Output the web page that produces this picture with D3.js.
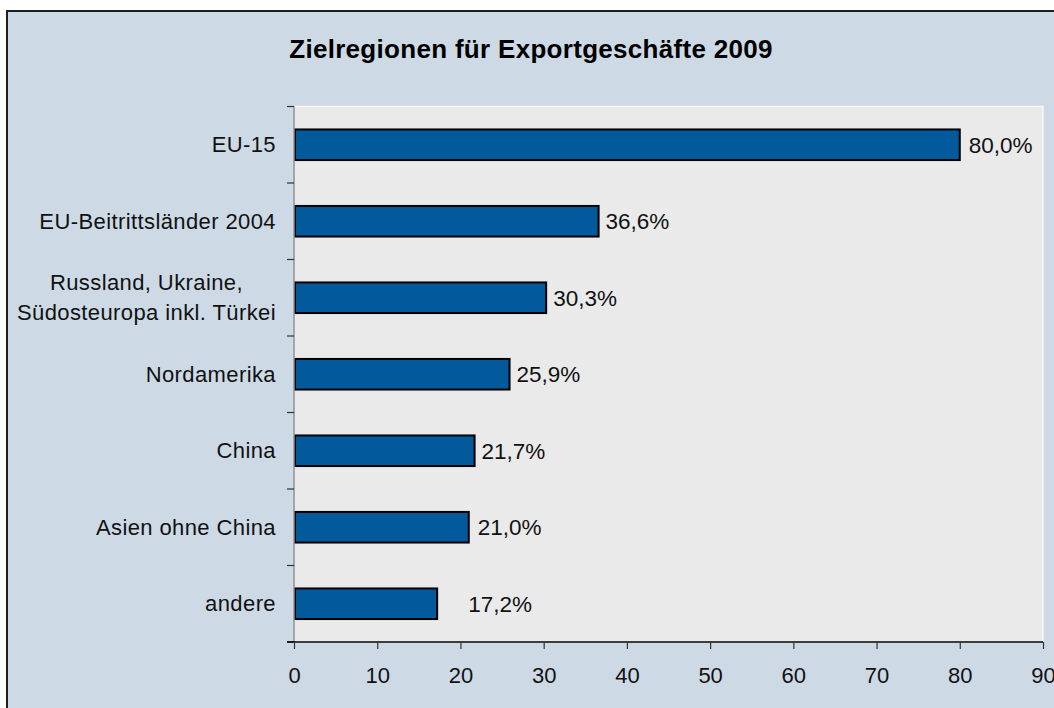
<!DOCTYPE html>
<html>
<head>
<meta charset="utf-8">
<script src="https://cdn.jsdelivr.net/npm/d3@7"></script>
<style>
  html, body { margin: 0; padding: 0; background: #ffffff; }
  svg { display: block; }
</style>
</head>
<body>
<svg id="chart" width="1054" height="708"></svg>
<script>
// ---- data ----
const title = "Zielregionen für Exportgeschäfte 2009";
const categories = [
  ["EU-15"],
  ["EU-Beitrittsländer 2004"],
  ["Russland, Ukraine,", "Südosteuropa inkl. Türkei"],
  ["Nordamerika"],
  ["China"],
  ["Asien ohne China"],
  ["andere"]
];
const values = [80.0, 36.6, 30.3, 25.9, 21.7, 21.0, 17.2];
const valueLabels = ["80,0%", "36,6%", "30,3%", "25,9%", "21,7%", "21,0%", "17,2%"];
const xTicks = [0, 10, 20, 30, 40, 50, 60, 70, 80, 90];
// label offsets from bar end (as placed in the original)
const labelDx = [9, 7, 7, 7, 7, 9, 31];

// ---- layout ----
const svg = d3.select("#chart");
const plot = { left: 294, right: 1043, top: 106.5, bottom: 642 };
const font = "Arial, 'Liberation Sans', Helvetica, sans-serif";

// outer frame
svg.append("rect")
  .attr("x", 7).attr("y", 11)
  .attr("width", 1054).attr("height", 708)
  .attr("fill", "#cddae6")
  .attr("stroke", "#1e1e1e").attr("stroke-width", 2);

// title
svg.append("text")
  .attr("x", 531).attr("y", 58)
  .attr("text-anchor", "middle")
  .attr("font-family", font)
  .attr("font-weight", "bold")
  .attr("font-size", 26)
  .attr("letter-spacing", 0.3)
  .attr("fill", "#000")
  .text(title);

const idx = d3.range(values.length);
const x = d3.scaleLinear().domain([0, 90]).range([plot.left, plot.right]);
const yBand = d3.scaleBand().domain(idx).range([plot.top, plot.bottom]).padding(0);
const yBar = d3.scaleBand().domain(idx).range([plot.top, plot.bottom])
  .paddingInner(0.6).paddingOuter(0.3);

// plot area
svg.append("rect")
  .attr("x", plot.left).attr("y", plot.top)
  .attr("width", plot.right - plot.left).attr("height", plot.bottom - plot.top)
  .attr("fill", "#eaeaea")
  .attr("stroke", "#f8f8f8").attr("stroke-width", 1.5);

// bars
svg.append("g").selectAll("rect")
  .data(idx)
  .join("rect")
  .attr("x", x(0) + 1)
  .attr("y", i => yBar(i))
  .attr("width", i => x(values[i]) - x(0) - 1)
  .attr("height", yBar.bandwidth())
  .attr("fill", "#02599c")
  .attr("stroke", "#000")
  .attr("stroke-width", 2);

// value labels
svg.append("g").selectAll("text")
  .data(idx)
  .join("text")
  .attr("x", i => x(values[i]) + labelDx[i])
  .attr("y", i => yBar(i) + yBar.bandwidth() / 2)
  .attr("dy", "0.35em")
  .attr("font-family", font)
  .attr("font-size", 22.5)
  .attr("fill", "#111")
  .text(i => valueLabels[i]);

// y axis (category boundaries ticks)
const yAxisG = svg.append("g");
yAxisG.append("line")
  .attr("x1", plot.left).attr("x2", plot.left)
  .attr("y1", plot.top).attr("y2", plot.bottom)
  .attr("stroke", "#8c8c8c").attr("stroke-width", 1.5);
const boundaries = idx.map(i => yBand(i)).concat([plot.bottom]);
yAxisG.selectAll("line.tick")
  .data(boundaries)
  .join("line")
  .attr("class", "tick")
  .attr("x1", plot.left - 7).attr("x2", plot.left)
  .attr("y1", d => d).attr("y2", d => d)
  .attr("stroke", "#333").attr("stroke-width", 1.2);

// category labels
const labelRight = 276;
const catG = svg.append("g")
  .attr("font-family", font)
  .attr("font-size", 22)
  .attr("letter-spacing", 0.4)
  .attr("fill", "#111");
idx.forEach(i => {
  const lines = categories[i];
  const cy = yBand(i) + yBand.bandwidth() / 2;
  const lh = 30;
  const texts = lines.map((ln, k) => catG.append("text")
    .attr("y", cy + (k - (lines.length - 1) / 2) * lh)
    .attr("dy", "0.35em")
    .text(ln));
  const widths = texts.map(t => t.node().getComputedTextLength());
  const maxW = d3.max(widths);
  texts.forEach((t, k) => {
    t.attr("x", labelRight - maxW + (maxW - widths[k]) / 2);
  });
});

// x axis
const xAxis = d3.axisBottom(x)
  .tickValues(xTicks)
  .tickSize(7)
  .tickPadding(18)
  .tickFormat(d3.format("d"));
const xg = svg.append("g")
  .attr("transform", `translate(0,${plot.bottom})`)
  .call(xAxis);
xg.select(".domain").attr("stroke", "#000").attr("stroke-width", 1.5)
  .attr("d", `M${plot.left - 7},0H${plot.right}`);
xg.selectAll(".tick line").attr("stroke", "#333").attr("stroke-width", 1.2);
xg.selectAll(".tick text")
  .attr("font-family", font)
  .attr("font-size", 22)
  .attr("fill", "#111");
</script>
</body>
</html>
